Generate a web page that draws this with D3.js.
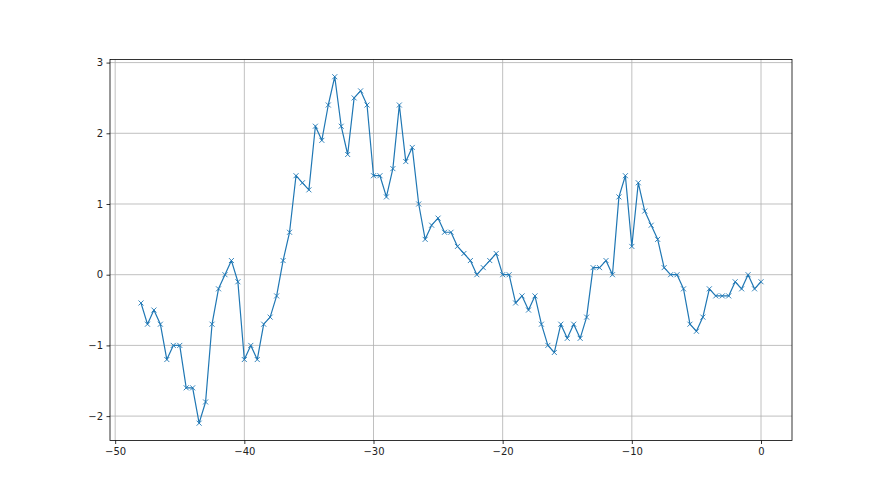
<!DOCTYPE html>
<html>
<head>
<meta charset="utf-8">
<script src="https://cdn.jsdelivr.net/npm/d3@7"></script>
<style>
  body { margin: 0; background: #fff; }
  text { font-family: "DejaVu Sans", sans-serif; }
</style>
</head>
<body>
<div id="chart"></div>
<script>
// x positions: -48 .. 0 in steps of 0.5
var xs = [-48, -47.5, -47, -46.5, -46, -45.5, -45, -44.5, -44, -43.5,
    -43, -42.5, -42, -41.5, -41, -40.5, -40, -39.5, -39, -38.5,
    -38, -37.5, -37, -36.5, -36, -35.5, -35, -34.5, -34, -33.5,
    -33, -32.5, -32, -31.5, -31, -30.5, -30, -29.5, -29, -28.5,
    -28, -27.5, -27, -26.5, -26, -25.5, -25, -24.5, -24, -23.5,
    -23, -22.5, -22, -21.5, -21, -20.5, -20, -19.5, -19, -18.5,
    -18, -17.5, -17, -16.5, -16, -15.5, -15, -14.5, -14, -13.5,
    -13, -12.5, -12, -11.5, -11, -10.5, -10, -9.5, -9, -8.5,
    -8, -7.5, -7, -6.5, -6, -5.5, -5, -4.5, -4, -3.5,
    -3, -2.5, -2, -1.5, -1, -0.5, 0];

var ys = [-0.4, -0.7, -0.5, -0.7, -1.2, -1.0, -1.0, -1.6, -1.6, -2.1,
    -1.8, -0.7, -0.2, 0.0, 0.2, -0.1, -1.2, -1.0, -1.2, -0.7,
    -0.6, -0.3, 0.2, 0.6, 1.4, 1.3, 1.2, 2.1, 1.9, 2.4,
    2.8, 2.1, 1.7, 2.5, 2.6, 2.4, 1.4, 1.4, 1.1, 1.5,
    2.4, 1.6, 1.8, 1.0, 0.5, 0.7, 0.8, 0.6, 0.6, 0.4,
    0.3, 0.2, 0.0, 0.1, 0.2, 0.3, 0.0, 0.0, -0.4, -0.3,
    -0.5, -0.3, -0.7, -1.0, -1.1, -0.7, -0.9, -0.7, -0.9, -0.6,
    0.1, 0.1, 0.2, 0.0, 1.1, 1.4, 0.4, 1.3, 0.9, 0.7,
    0.5, 0.1, 0.0, 0.0, -0.2, -0.7, -0.8, -0.6, -0.2, -0.3,
    -0.3, -0.3, -0.1, -0.2, 0.0, -0.2, -0.1];

var xTicks = [-50, -40, -30, -20, -10, 0];
var yTicks = [-2, -1, 0, 1, 2, 3];

var W = 880, H = 495;
var margin = { top: 59.4, right: 88, bottom: 54.5, left: 110 },
    width = W - margin.left - margin.right,
    height = H - margin.top - margin.bottom;

var data = xs.map(function (x, i) { return { x: x, y: ys[i] }; });

// matplotlib style 5% margins
var xmin = d3.min(xs), xmax = d3.max(xs), ymin = d3.min(ys), ymax = d3.max(ys);
var xpad = (xmax - xmin) * 0.05, ypad = (ymax - ymin) * 0.05;

var x = d3.scaleLinear().domain([xmin - xpad, xmax + xpad]).range([0, width]);
var y = d3.scaleLinear().domain([ymin - ypad, ymax + ypad]).range([height, 0]);

var svg = d3.select("#chart").append("svg")
    .attr("width", W)
    .attr("height", H)
    .append("g")
    .attr("transform", "translate(" + margin.left + "," + margin.top + ")");

// grid
svg.append("g").selectAll("line.gx")
    .data(xTicks).join("line")
    .attr("x1", d => x(d)).attr("x2", d => x(d))
    .attr("y1", 0).attr("y2", height)
    .attr("stroke", "#b0b0b0").attr("stroke-width", 0.8);
svg.append("g").selectAll("line.gy")
    .data(yTicks).join("line")
    .attr("x1", 0).attr("x2", width)
    .attr("y1", d => y(d)).attr("y2", d => y(d))
    .attr("stroke", "#b0b0b0").attr("stroke-width", 0.8);

// line
var line = d3.line().x(d => x(d.x)).y(d => y(d.y));
svg.append("path")
    .datum(data)
    .attr("fill", "none")
    .attr("stroke", "#1f77b4")
    .attr("stroke-width", 1.2)
    .attr("stroke-linejoin", "round")
    .attr("d", line);

// x markers
var m = 2.5;
svg.append("g").selectAll("path")
    .data(data).join("path")
    .attr("d", d => {
        var px = x(d.x), py = y(d.y);
        return "M" + (px - m) + "," + (py - m) + "L" + (px + m) + "," + (py + m) +
            "M" + (px - m) + "," + (py + m) + "L" + (px + m) + "," + (py - m);
    })
    .attr("stroke", "#1f77b4")
    .attr("stroke-width", 0.9);

// axes
var fmt = d => d < 0 ? "\u2212" + Math.abs(d) : String(d);
var xa = svg.append("g")
    .attr("transform", "translate(0," + height + ")")
    .call(d3.axisBottom(x).tickValues(xTicks).tickFormat(fmt).tickSizeInner(3.5).tickSizeOuter(0).tickPadding(3.5));
var ya = svg.append("g")
    .call(d3.axisLeft(y).tickValues(yTicks).tickFormat(fmt).tickSizeInner(3.5).tickSizeOuter(0).tickPadding(3.5));
[xa, ya].forEach(function (a) {
    a.select(".domain").remove();
    a.selectAll("line").attr("stroke", "#000").attr("stroke-width", 0.8);
    a.selectAll("text").attr("fill", "#222").style("font-size", "10px")
        .style("font-family", "'DejaVu Sans', sans-serif");
});

// spines
svg.append("rect")
    .attr("x", 0).attr("y", 0)
    .attr("width", width).attr("height", height)
    .attr("fill", "none")
    .attr("stroke", "#000")
    .attr("stroke-width", 0.8);
</script>
</body>
</html>
